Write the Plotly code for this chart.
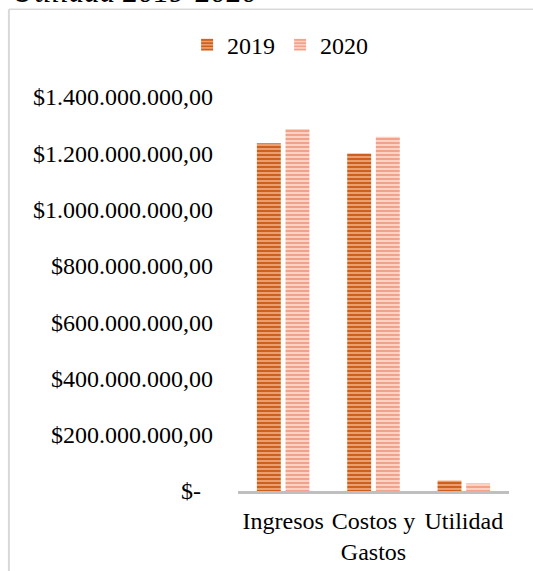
import plotly.graph_objects as go

categories = ["Ingresos", "Costos y<br>Gastos", "Utilidad"]
values_2019 = [1236000000, 1199000000, 37000000]
values_2020 = [1286000000, 1259000000, 27000000]
tick_values = [0, 200000000, 400000000, 600000000, 800000000,
               1000000000, 1200000000, 1400000000]
tick_labels = ["$-\u00a0\u00a0", "$200.000.000,00", "$400.000.000,00",
               "$600.000.000,00", "$800.000.000,00", "$1.000.000.000,00",
               "$1.200.000.000,00", "$1.400.000.000,00"]
title_text = "Utilidad 2019-2020"

FONT = "Liberation Serif"
FS = 24

fig = go.Figure()
fig.add_trace(go.Bar(
    name="2019", x=categories, y=values_2019,
    marker=dict(color="#d0601e", line=dict(width=0),
                pattern=dict(shape="-", fgcolor="#cf5f1c", bgcolor="#eca678",
                             size=4, solidity=0.55, fillmode="replace")),
))
fig.add_trace(go.Bar(
    name="2020", x=categories, y=values_2020,
    marker=dict(color="#f3a38c", line=dict(width=0),
                pattern=dict(shape="-", fgcolor="#f2a28a", bgcolor="#fcd8cb",
                             size=4, solidity=0.55, fillmode="replace")),
))

# frame (chart area border)
L, R, T, B = 238, 23.5, 96.5, 79.5
W, H = 533, 571
pw, ph = W - L - R, H - T - B
fx = (8.5 - L) / pw
fy = (H - B - 8.5) / ph
fig.add_shape(type="line", xref="paper", yref="paper", x0=fx, x1=fx, y0=fy, y1=-0.5,
              line=dict(color="#d9d9d9", width=2))
fig.add_shape(type="line", xref="paper", yref="paper", x0=fx, x1=1.5, y0=fy, y1=fy,
              line=dict(color="#d9d9d9", width=1.5))

fig.add_annotation(text=title_text, xref="paper", yref="paper",
                   x=(10 - L) / pw, y=(H - B - 10.5) / ph, xanchor="left", yanchor="bottom",
                   showarrow=False,
                   font=dict(family=FONT, size=31, color="#000000", style="italic"))

fig.update_layout(
    width=W, height=H,
    margin=dict(l=L, r=R, t=T, b=B, autoexpand=False),
    paper_bgcolor="white", plot_bgcolor="white",
    font=dict(family=FONT, size=FS, color="#000000"),
    barmode="group", bargap=0.366, bargroupgap=0.164,
    showlegend=True,
    legend=dict(orientation="h", x=(187 - L) / pw, xanchor="left",
                y=(H - B - 44.5) / ph, yanchor="middle",
                font=dict(family=FONT, size=FS, color="#000000"), itemwidth=30,
                bgcolor="rgba(0,0,0,0)"),
    xaxis=dict(showline=True, linecolor="#bfbfbf", linewidth=3, showgrid=False,
               ticks="", ticklabelstandoff=6, zeroline=False),
    yaxis=dict(range=[0, 1400000000], tickvals=tick_values, ticktext=tick_labels,
               showgrid=False, zeroline=False, showline=False, ticks="",
               ticklabelstandoff=24),
)

fig.write_html("out.html", config={"displayModeBar": False},
               post_script="document.body.style.margin='0';document.body.style.overflow='hidden';")
